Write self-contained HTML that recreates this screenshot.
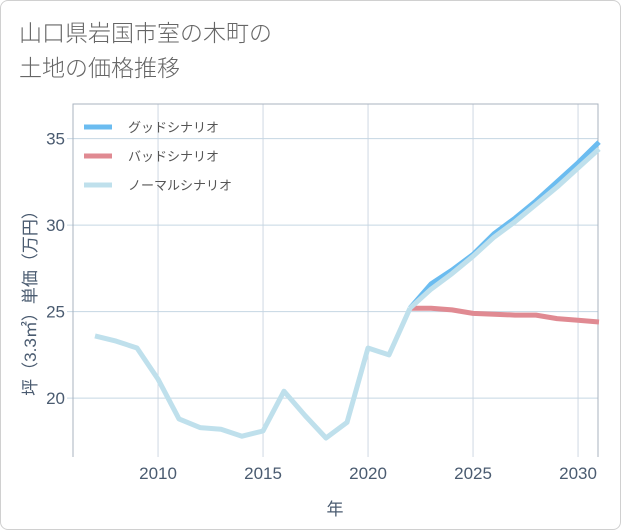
<!DOCTYPE html>
<html><head><meta charset="utf-8"><style>
body{margin:0;background:#fff;font-family:"Liberation Sans","Noto Sans CJK JP",sans-serif;}
#card{position:absolute;left:0;top:0;width:619px;height:528px;border:1px solid #d0d0d0;border-radius:8px;background:#fff;}
#title{position:absolute;left:18px;top:15px;font-size:23px;line-height:35px;color:#666;font-weight:300;}
</style></head><body>
<div id="card">
<div id="title">山口県岩国市室の木町の<br>土地の価格推移</div>
<svg id="chart" width="621" height="530" style="position:absolute;left:0;top:0"></svg>
</div>
<script>
const years=[2007,2008,2009,2010,2011,2012,2013,2014,2015,2016,2017,2018,2019,2020,2021,2022];
const normalPast=[23.6,23.3,22.9,21.1,18.8,18.3,18.2,17.8,18.1,20.4,19.0,17.7,18.6,22.9,22.5,25.2];
const futureYears=[2022,2023,2024,2025,2026,2027,2028,2029,2030,2031];
const goodVals=[25.2,26.6,27.4,28.3,29.5,30.4,31.4,32.5,33.6,34.8];
const badVals=[25.2,25.2,25.1,24.9,24.85,24.8,24.8,24.6,24.5,24.4];
const normalVals=[25.2,26.3,27.2,28.2,29.3,30.2,31.2,32.2,33.3,34.4];
const xTicks=[2010,2015,2020,2025,2030];
const yTicks=[20,25,30,35];
const L=72,R=597,T=103,B=456;
const xMin=2005.95,xMax=2030.95,yMin=16.6,yMax=37.0;
const xs=v=>L+(v-xMin)/(xMax-xMin)*(R-L);
const ys=v=>B-(v-yMin)/(yMax-yMin)*(B-T);
const svg=document.getElementById('chart');
const NS='http://www.w3.org/2000/svg';
function mk(tag,attrs){const e=document.createElementNS(NS,tag);for(const k in attrs)e.setAttribute(k,attrs[k]);svg.appendChild(e);return e;}
xTicks.forEach(t=>{
 const g=mk('line',{x1:xs(t),x2:xs(t),y1:T,y2:B,stroke:'#cfd8e3','stroke-width':1});
 
 
 const tx=mk('text',{x:xs(t),y:B+22,'text-anchor':'middle','font-size':17,fill:'#4a5b70'});
 tx.textContent=t;
 
 
});
yTicks.forEach(t=>{
 const g=mk('line',{x1:L-6,x2:R,y1:ys(t),y2:ys(t),stroke:'#c5d6e3','stroke-width':1});
 
 
 const tx=mk('text',{x:L-8,y:ys(t)+6,'text-anchor':'end','font-size':17,fill:'#4a5b70'});
 tx.textContent=t;
 
 
});
const ax=mk('path',{d:`M${L},${B}V${T}H${R}V${B}`,fill:'none',stroke:'#a9b3bf','stroke-width':1});


function line(xv,yv,color,name){
 const d=xv.map((x,i)=>(i?'L':'M')+xs(x).toFixed(1)+','+ys(yv[i]).toFixed(1)).join('');
 const p=mk('path',{d:d,fill:'none',stroke:color,'stroke-width':5,'stroke-linejoin':'round'});
 
 
}
line(futureYears,goodVals,'#6bbcf0','good-scenario-line');
line(futureYears,badVals,'#e08a92','bad-scenario-line');
line(futureYears,normalVals,'#bfe0ec','normal-scenario-future-line');
line(years,normalPast,'#bfe0ec','normal-scenario-line');
const leg=[['グッドシナリオ','#6bbcf0'],['バッドシナリオ','#e08a92'],['ノーマルシナリオ','#bfe0ec']];
leg.forEach((l,i)=>{
 const y=126+i*29;
 const s=mk('line',{x1:83,x2:111,y1:y,y2:y,stroke:l[1],'stroke-width':5});
 
 
 const t=mk('text',{x:127,y:y+5,'font-size':13,fill:'#555'});
 t.textContent=l[0];
 
 
});
const xt=mk('text',{x:334,y:514,'text-anchor':'middle','font-size':17,fill:'#4a5b70'});
xt.textContent='年';


const yt=mk('text',{x:0,y:0,'text-anchor':'middle','font-size':17,fill:'#4a5b70',transform:'translate(35,298) rotate(-90)'});
yt.textContent='坪（3.3㎡）単価（万円）';


</script>
</body></html>
